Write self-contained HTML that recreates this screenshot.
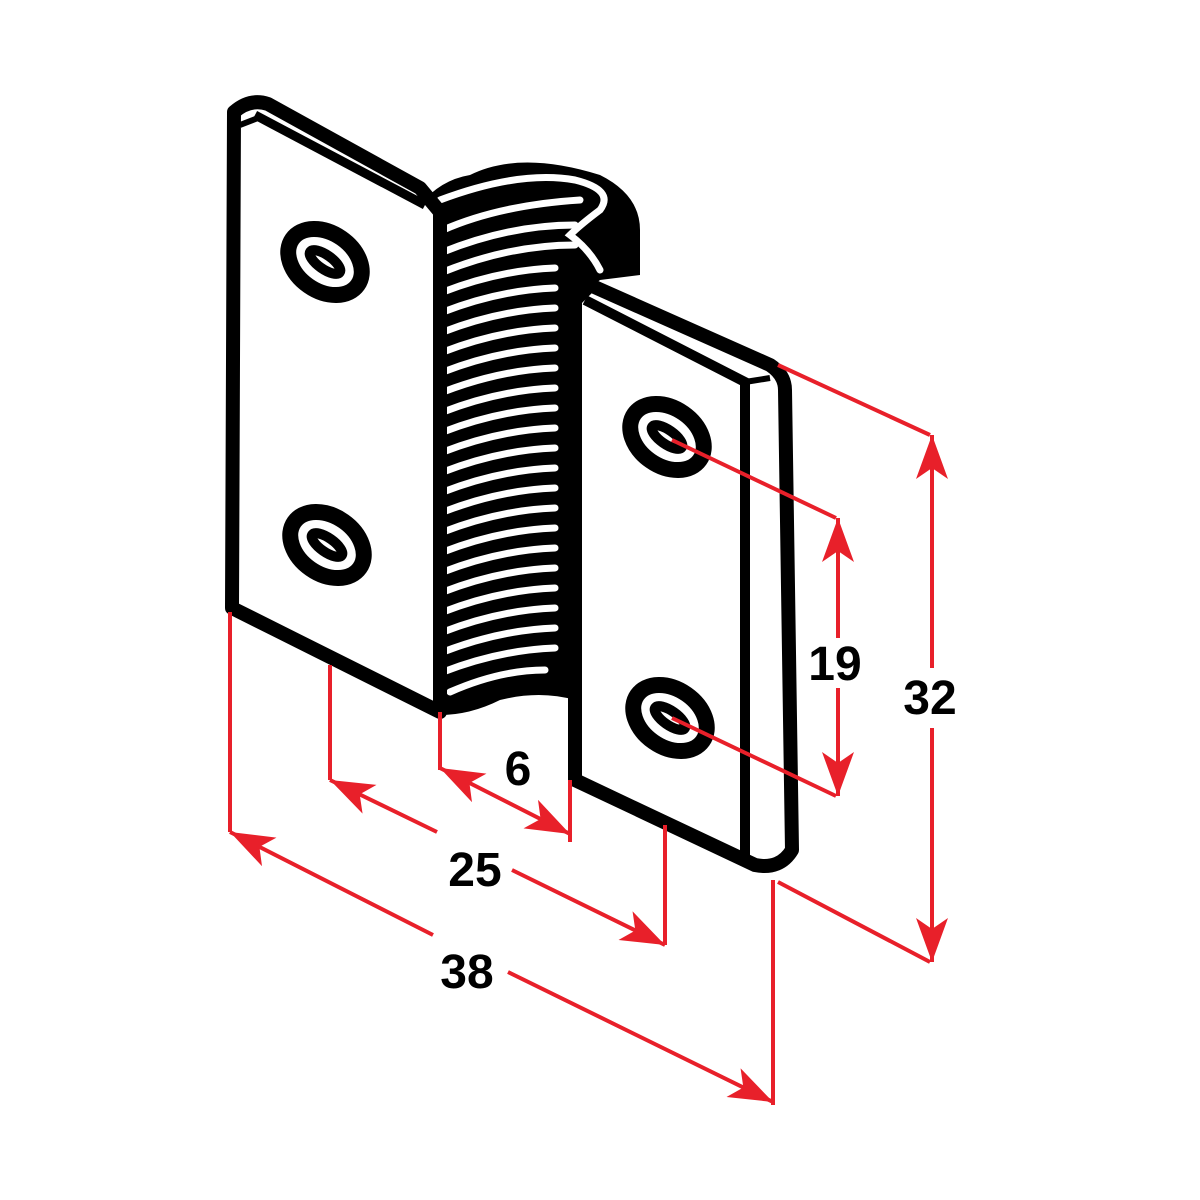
<!DOCTYPE html>
<html><head><meta charset="utf-8"><style>
html,body{margin:0;padding:0;background:#fff}
svg{display:block}
text{font-family:"Liberation Sans",Arial,sans-serif;font-weight:bold;font-size:48px;fill:#000}
</style></head><body>
<svg width="1200" height="1200" viewBox="0 0 1200 1200" xmlns="http://www.w3.org/2000/svg">
<defs>
<marker id="ar" viewBox="0 0 44 32" refX="44" refY="16" markerWidth="44" markerHeight="32" markerUnits="userSpaceOnUse" orient="auto-start-reverse">
<path d="M44,16 L0,0 L11,16 L0,32 Z" fill="#e8202a"/>
</marker>
</defs>
<path d="M420,205 Q440,180 470,175 Q520,150 600,175 Q640,195 640,230 L640,275 L600,280 L575,300 L575,700 Q540,690 500,700 Q470,715 440,715 Z" fill="#000"/>
<g stroke="#fff" stroke-width="7" fill="none" stroke-linecap="round">
<path d="M440,200 Q520,170 575,180 Q615,190 600,210 Q580,225 570,235 Q590,250 600,270"/>
<path d="M443,230 Q500,205 580,200"/>
<path d="M443,252 Q510,225 575,225"/>
<path d="M443,272 Q510,245 575,245"/>
</g>
<g stroke="#fff" stroke-width="7" fill="none" stroke-linecap="round">
<path d="M443,292 Q500,270 555,268"/>
<path d="M443,312 Q500,290 555,288"/>
<path d="M443,332 Q500,310 555,308"/>
<path d="M443,352 Q500,330 555,328"/>
<path d="M443,372 Q500,350 555,348"/>
<path d="M443,392 Q500,370 555,368"/>
<path d="M443,412 Q500,390 555,388"/>
<path d="M443,432 Q500,410 555,408"/>
<path d="M443,452 Q500,430 555,428"/>
<path d="M443,472 Q500,450 555,448"/>
<path d="M443,492 Q500,470 555,468"/>
<path d="M443,512 Q500,490 555,488"/>
<path d="M443,532 Q500,510 555,508"/>
<path d="M443,552 Q500,530 555,528"/>
<path d="M443,572 Q500,550 555,548"/>
<path d="M443,592 Q500,570 555,568"/>
<path d="M443,612 Q500,590 555,588"/>
<path d="M443,632 Q500,610 555,608"/>
<path d="M443,652 Q500,630 555,628"/>
<path d="M443,672 Q500,650 555,648"/>
<path d="M450,692 Q500,670 545,670"/>
</g>
<path d="M234,112 Q250,98 268,104 L420,188 L440,212 L440,712 L232,608 Z" fill="#fff" stroke="#000" stroke-width="14" stroke-linejoin="round"/>
<path d="M255,115 L425,205" stroke="#000" stroke-width="9"/>
<path d="M240,125 L258,118" stroke="#000" stroke-width="6"/>
<path d="M590,285 L770,365 Q785,375 785,390 L792,850 Q780,870 755,865 L575,780 L575,300 Z" fill="#fff" stroke="#000" stroke-width="14" stroke-linejoin="round"/>
<path d="M585,300 L745,382 L745,855" stroke="#000" stroke-width="10" fill="none"/>
<path d="M745,382 L770,378" stroke="#000" stroke-width="6"/>
<g fill="none" stroke="#000">
<g transform="translate(325,262) rotate(35)"><ellipse rx="40" ry="29" stroke-width="16"/><ellipse rx="18" ry="7" stroke-width="10"/></g>
<g transform="translate(327,545) rotate(35)"><ellipse rx="40" ry="29" stroke-width="16"/><ellipse rx="18" ry="7" stroke-width="10"/></g>
<g transform="translate(667,437) rotate(35)"><ellipse rx="40" ry="29" stroke-width="16"/><ellipse rx="18" ry="7" stroke-width="10"/></g>
<g transform="translate(670,718) rotate(35)"><ellipse rx="40" ry="29" stroke-width="16"/><ellipse rx="18" ry="7" stroke-width="10"/></g>
</g>
<g stroke="#e8202a" stroke-width="4" fill="none">
<line x1="230" y1="612" x2="230" y2="832"/>
<line x1="773" y1="880" x2="773" y2="1105"/>
<line x1="330" y1="665" x2="330" y2="780"/>
<line x1="665" y1="825" x2="665" y2="945"/>
<line x1="440" y1="712" x2="440" y2="770"/>
<line x1="570" y1="780" x2="570" y2="842"/>
<line x1="230" y1="832" x2="433" y2="935" marker-start="url(#ar)"/>
<line x1="508" y1="972" x2="773" y2="1102" marker-end="url(#ar)"/>
<line x1="330" y1="780" x2="437" y2="832" marker-start="url(#ar)"/>
<line x1="512" y1="870" x2="665" y2="945" marker-end="url(#ar)"/>
<line x1="440" y1="768" x2="570" y2="834" marker-start="url(#ar)" marker-end="url(#ar)"/>
<line x1="672" y1="440" x2="836" y2="518"/>
<line x1="672" y1="718" x2="836" y2="796"/>
<line x1="838" y1="518" x2="838" y2="638" marker-start="url(#ar)"/>
<line x1="838" y1="688" x2="838" y2="796" marker-end="url(#ar)"/>
<line x1="778" y1="365" x2="930" y2="435"/>
<line x1="778" y1="882" x2="930" y2="962"/>
<line x1="932" y1="435" x2="932" y2="668" marker-start="url(#ar)"/>
<line x1="932" y1="728" x2="932" y2="962" marker-end="url(#ar)"/>
</g>
<text x="518" y="785" text-anchor="middle">6</text>
<text x="475" y="886" text-anchor="middle">25</text>
<text x="467" y="988" text-anchor="middle">38</text>
<text x="835" y="680" text-anchor="middle">19</text>
<text x="930" y="714" text-anchor="middle">32</text>
</svg>
</body></html>
